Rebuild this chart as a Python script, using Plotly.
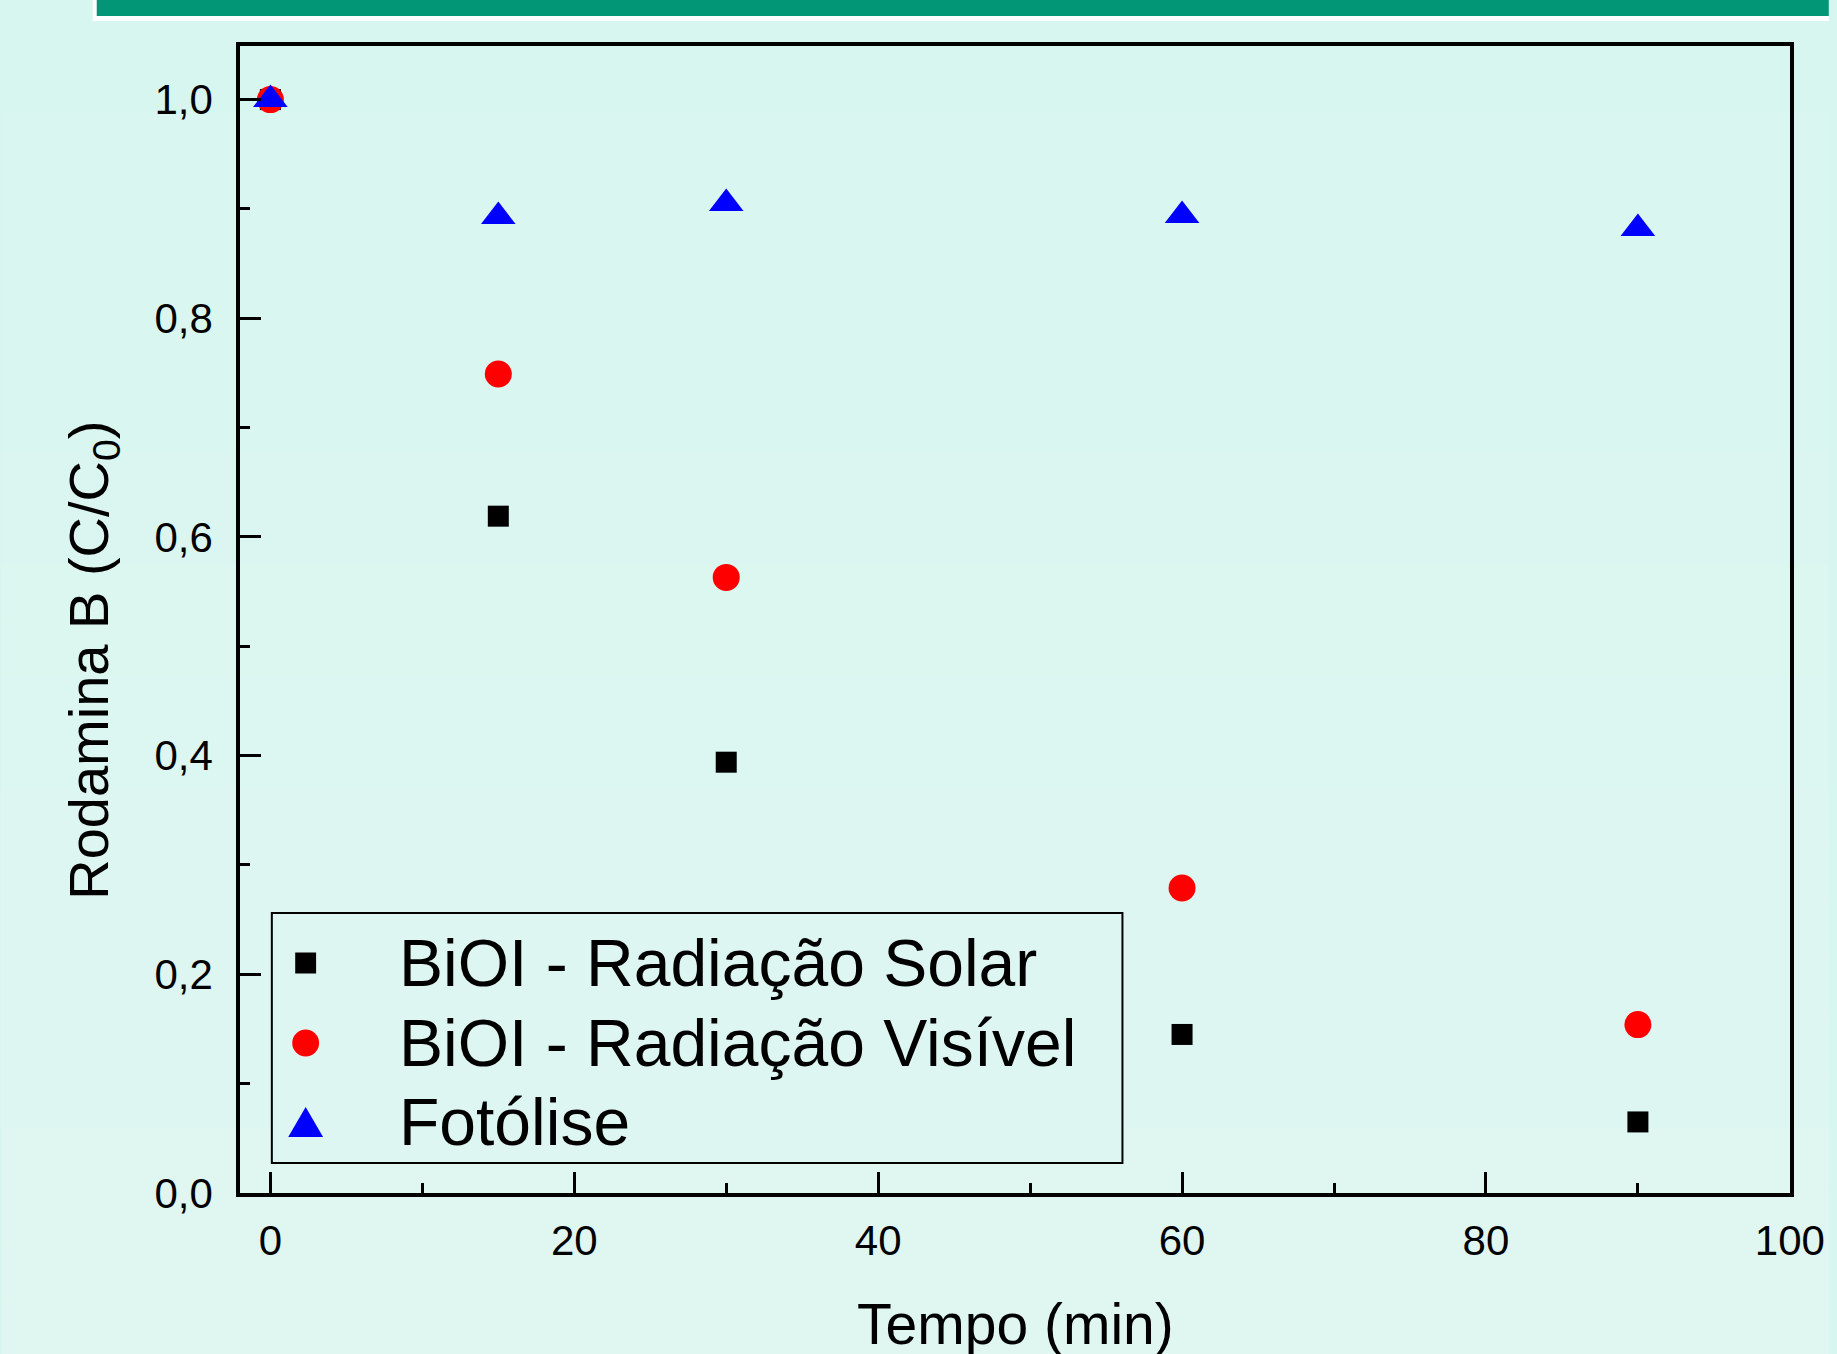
import plotly.graph_objects as go

tempo = [0, 15, 30, 60, 90]
solar = [1.0, 0.619, 0.394, 0.145, 0.065]
visivel = [1.0, 0.749, 0.563, 0.279, 0.154]
fotolise = [1.0, 0.893, 0.905, 0.894, 0.882]

names = ["BiOI - Radiação Solar", "BiOI - Radiação Visível", "Fotólise"]
x_ticks = [0, 20, 40, 60, 80, 100]
y_ticks = [0.0, 0.2, 0.4, 0.6, 0.8, 1.0]
y_ticklabels = ["0,0", "0,2", "0,4", "0,6", "0,8", "1,0"]

FONT = "Liberation Sans, Arial, sans-serif"
BG_TOP = (216, 246, 240)
BG_BOT = (224, 246, 241)

W, H = 1837, 1354
L, R, T, B = 240, 39, 46, 161
pw, ph = W - L - R, H - T - B


def px2x(px):
    return (px - L) / pw


def py2y(py):
    return (H - B - py) / ph


def bg_at(frac):
    c = [round(a + (b - a) * frac) for a, b in zip(BG_TOP, BG_BOT)]
    return "rgb(%d,%d,%d)" % tuple(c)


fig = go.Figure()
fig.add_trace(go.Scatter(x=tempo, y=solar, mode="markers", name=names[0],
                         marker=dict(symbol="square", size=21, color="black")))
fig.add_trace(go.Scatter(x=tempo, y=visivel, mode="markers", name=names[1],
                         marker=dict(symbol="circle", size=27, color="#FF0000")))
fig.add_trace(go.Scatter(x=tempo, y=fotolise, mode="markers", name=names[2],
                         marker=dict(symbol="triangle-up", size=30, color="#0000FF")))

axis_common = dict(
    showline=True, linecolor="black", linewidth=3.5, mirror=True,
    ticks="inside", ticklen=21, tickwidth=2.5, tickcolor="black",
    showgrid=False, zeroline=False, ticklabeloverflow="allow",
    tickfont=dict(family=FONT, size=42, color="black"),
)

fig.update_xaxes(range=[-2, 100.01], tickvals=x_ticks, ticklabelstandoff=8,
                 minor=dict(ticks="inside", ticklen=10, tickwidth=2.5, tickcolor="black", dtick=10, tick0=0),
                 **axis_common)
fig.update_yaxes(range=[0, 1.049], tickvals=y_ticks, ticktext=y_ticklabels, ticklabelstandoff=15,
                 minor=dict(ticks="inside", ticklen=10, tickwidth=2.5, tickcolor="black", dtick=0.1, tick0=0),
                 **axis_common)

shapes = []
# subtle vertical background gradient
NB = 24
for i in range(NB):
    y0p = H * i / NB
    y1p = H * (i + 1) / NB
    shapes.append(dict(type="rect", xref="paper", yref="paper", x0=px2x(0), x1=px2x(W),
                       y0=py2y(min(y1p + 1, H)), y1=py2y(y0p), fillcolor=bg_at((i + 0.5) / NB),
                       line=dict(width=0), layer="below"))
# top green band
shapes.append(dict(type="rect", xref="paper", yref="paper", x0=px2x(92), x1=px2x(W),
                   y0=py2y(21), y1=py2y(0), fillcolor="white", line=dict(width=0), layer="below"))
shapes.append(dict(type="rect", xref="paper", yref="paper", x0=px2x(96), x1=px2x(W),
                   y0=py2y(16), y1=py2y(0), fillcolor="#029677", line=dict(width=0), layer="below"))

# custom legend (box, keys, labels)
LEG_X0, LEG_X1, LEG_Y0, LEG_Y1 = 272, 1127, 913, 1163
shapes.append(dict(type="rect", xref="paper", yref="paper", x0=px2x(LEG_X0), x1=px2x(LEG_X1),
                   y0=py2y(LEG_Y1), y1=py2y(LEG_Y0), fillcolor=bg_at(0.7),
                   line=dict(color="black", width=2), layer="above"))
rows = [963, 1043, 1122]
kx = 306
s = 10.5
shapes.append(dict(type="rect", xref="paper", yref="paper", x0=px2x(kx - s), x1=px2x(kx + s),
                   y0=py2y(rows[0] + s), y1=py2y(rows[0] - s), fillcolor="black",
                   line=dict(width=0), layer="above"))
c = 13.5
shapes.append(dict(type="circle", xref="paper", yref="paper", x0=px2x(kx - c), x1=px2x(kx + c),
                   y0=py2y(rows[1] + c), y1=py2y(rows[1] - c), fillcolor="#FF0000",
                   line=dict(width=0), layer="above"))
tw, th = 17.5, 15
path = "M %f %f L %f %f L %f %f Z" % (
    px2x(kx - tw), py2y(rows[2] + th), px2x(kx + tw), py2y(rows[2] + th), px2x(kx), py2y(rows[2] - th))
shapes.append(dict(type="path", xref="paper", yref="paper", path=path, fillcolor="#0000FF",
                   line=dict(width=0), layer="above"))

annotations = [
    dict(text="Tempo (min)", xref="paper", yref="paper", x=px2x(1019), y=py2y(1324),
         xanchor="center", yanchor="middle", showarrow=False,
         font=dict(family=FONT, size=57, color="black")),
    dict(text="Rodamina B (C/C<sub>0</sub>)", xref="paper", yref="paper", x=px2x(91), y=py2y(660),
         xanchor="center", yanchor="middle", showarrow=False, textangle=-90,
         font=dict(family=FONT, size=56, color="black")),
]
for name, ry in zip(names, rows):
    annotations.append(dict(text=name, xref="paper", yref="paper", x=px2x(398), y=py2y(ry),
                            xanchor="left", yanchor="middle", showarrow=False,
                            font=dict(family=FONT, size=66, color="black")))

fig.update_layout(
    width=W, height=H, autosize=False,
    margin=dict(l=L, r=R, t=T, b=B, pad=0),
    paper_bgcolor=bg_at(0.0), plot_bgcolor="rgba(0,0,0,0)",
    showlegend=False,
    shapes=shapes, annotations=annotations,
)

post = (
    "var gd=document.getElementById('{plot_id}');"
    "gd.style.position='fixed';gd.style.left='0px';gd.style.top='0px';"
    "document.body.style.margin='0';document.body.style.background='" + bg_at(0.5) + "';"
    "document.documentElement.style.overflow='hidden';document.body.style.overflow='hidden';"
    "var sx=window.innerWidth/" + str(W) + ",sy=window.innerHeight/" + str(H) + ";"
    "if(sx>0&&sy>0&&(Math.abs(sx-1)>0.001||Math.abs(sy-1)>0.001)){"
    "gd.style.transformOrigin='0 0';gd.style.transform='scale('+sx+','+sy+')';}"
)
fig.write_html("out.html", config={"displayModeBar": False}, post_script=post)
